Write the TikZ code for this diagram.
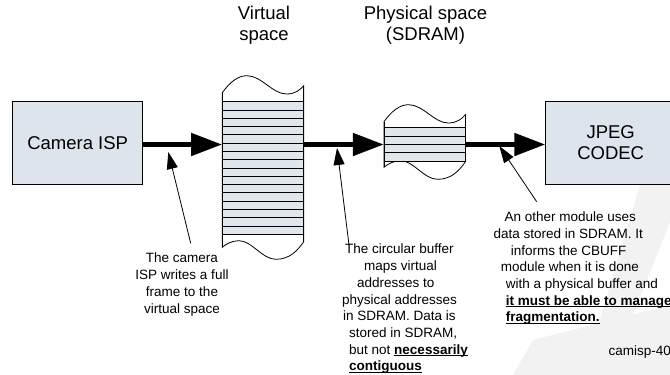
\documentclass[tikz,border=0pt]{standalone}
\usepackage{fontspec}
\setmainfont{Liberation Sans}
\usetikzlibrary{arrows.meta}
\definecolor{boxfill}{HTML}{DDE4EB}
\definecolor{stripefill}{HTML}{DFE6EC}
\definecolor{wmark}{HTML}{F2F2F2}
\newcommand{\bigfont}{\fontsize{18.5}{21.5}\selectfont}
\newcommand{\smallfont}{\fontsize{13.5}{16.7}\selectfont}
\newsavebox{\myulbox}
\newcommand{\bu}[1]{\sbox{\myulbox}{\textbf{#1}}\rlap{\rule[-2pt]{\wd\myulbox}{0.9pt}}\usebox{\myulbox}}
\tikzset{
  unitbox/.style={draw=black, line width=0.8pt, fill=boxfill, minimum width=130pt, minimum height=82.3pt, inner sep=0pt, font=\bigfont, align=center},
  holder/.style={inner sep=0pt, draw=none},
  flow/.style={line width=5pt, -{Triangle[length=31pt,width=22pt]}},
  pointer/.style={line width=0.8pt, -{Triangle[length=17pt,width=11pt]}},
  tapeline/.style={line width=0.8pt, draw=black},
  stripeline/.style={line width=0.8pt, draw=black},
  note/.style={font=\smallfont, inner sep=0pt, text=black},
  heading/.style={font=\bigfont, align=center, inner sep=0pt}
}
\begin{document}
\begin{tikzpicture}[x=1pt, y=-1pt]
\useasboundingbox (0,0) rectangle (670,375);
\clip (0,0) rectangle (670,375);
\fill[white] (0,0) rectangle (670,375);
% faint watermark
\fill[wmark] (640,185) -- (670,168) -- (670,222) -- (627,330) -- (597,330) -- cycle;
\fill[wmark] (533,340) -- (670,305) -- (670,375) -- (513,375) -- cycle;

% headings
\node[heading] (hvirt) at (264,25) {Virtual\\space};
\node[heading] (hphys) at (425.5,25) {Physical space\\(SDRAM)};

% boxes
\node[unitbox] (cam) at (77.7,142.85) {Camera ISP};
\node[unitbox] (jpeg) at (610.7,142.85) {JPEG\\CODEC};

% virtual space tape
\draw[tapeline, fill=white] (222.3,92.7) .. controls (230,82) and (238,75.7) .. (246.7,75.7)
  .. controls (262,75.7) and (272,94) .. (286.7,94)
  .. controls (295,94) and (300,90) .. (303.7,85.7)
  -- (303.7,241.7)
  .. controls (298,250) and (290,259.3) .. (276,259.3)
  .. controls (262,259.3) and (252,240.7) .. (239,240.7)
  .. controls (232,240.7) and (226,244) .. (222.3,247.3) -- cycle;
\node[holder, minimum width=81.4pt, minimum height=132.6pt] (virt) at (263,168) {};
\fill[stripefill] (222.3,101.7) rectangle (303.7,234.3);
\foreach \k in {0,...,16} {
  \draw[stripeline] (222.3,{101.7+8.2875*\k}) -- (303.7,{101.7+8.2875*\k});
}
\draw[tapeline] (222.3,92.7) -- (222.3,247.3);
\draw[tapeline] (303.7,85.7) -- (303.7,241.7);

% physical space tape
\draw[tapeline, fill=white] (384,121.7) .. controls (391.7,111) and (399.7,104.7) .. (408.4,104.7)
  .. controls (423.7,104.7) and (433.7,123) .. (448.4,123)
  .. controls (456.7,123) and (461.7,119) .. (465.4,114.7)
  -- (465.4,161.7)
  .. controls (459.7,170) and (451.7,179.3) .. (437.7,179.3)
  .. controls (423.7,179.3) and (413.7,160.7) .. (400.7,160.7)
  .. controls (393.7,160.7) and (387.7,164) .. (384,167.3) -- cycle;
\node[holder, minimum width=81.4pt, minimum height=33.3pt] (phys) at (424.7,144.35) {};
\fill[stripefill] (384,127.7) rectangle (465.4,161);
\foreach \k in {0,...,4} {
  \draw[stripeline] (384,{127.7+8.325*\k}) -- (465.4,{127.7+8.325*\k});
}
\draw[tapeline] (384,121.7) -- (384,167.3);
\draw[tapeline] (465.4,114.7) -- (465.4,161.7);

% flow arrows
\coordinate (ay) at (0,144.5);
\draw[flow] (cam.east |- ay) -- (virt.west |- ay);
\draw[flow] (virt.east |- ay) -- (phys.west |- ay);
\draw[flow] (phys.east |- ay) -- (jpeg.west |- ay);

% pointers
\coordinate (t1) at (190.7,243.3);
\coordinate (h1) at (168.3,152);
\coordinate (t2) at (349,245);
\coordinate (h2) at (337,148);
\coordinate (t3) at (536.7,201.7);
\coordinate (h3) at (499.3,146);
\draw[pointer] (t1) -- (h1);
\draw[pointer] (t2) -- (h2);
\draw[pointer] (t3) -- (h3);

% notes
\node[note, align=center, anchor=north] (n1) at (182,253) {The camera\\ISP writes a full\\frame to the\\virtual space};
\node[note, align=left, anchor=north west] (n2) at (342,244) {%
\hspace*{3pt}The circular buffer\\
\hspace*{22pt}maps virtual\\
\hspace*{15pt}addresses to\\
physical addresses\\
\hspace*{1pt}in SDRAM. Data is\\
\hspace*{7pt}stored in SDRAM,\\
\hspace*{7pt}but not \bu{necessarily}\\
\hspace*{7pt}\bu{contiguous}};
\node[note, align=left, anchor=north west] (n3) at (493.3,211.7) {%
\hspace*{11pt}An other module uses\\
data stored in SDRAM. It\\
\hspace*{17.4pt}informs the CBUFF\\
\hspace*{7.4pt}module when it is done\\
\hspace*{12.4pt}with a physical buffer and\\
\hspace*{12.4pt}\bu{it must be able to manage}\\
\hspace*{12.4pt}\bu{fragmentation.}};
\node[note, anchor=west] (lbl) at (608.3,351.7) {camisp-409};
\end{tikzpicture}
\end{document}
